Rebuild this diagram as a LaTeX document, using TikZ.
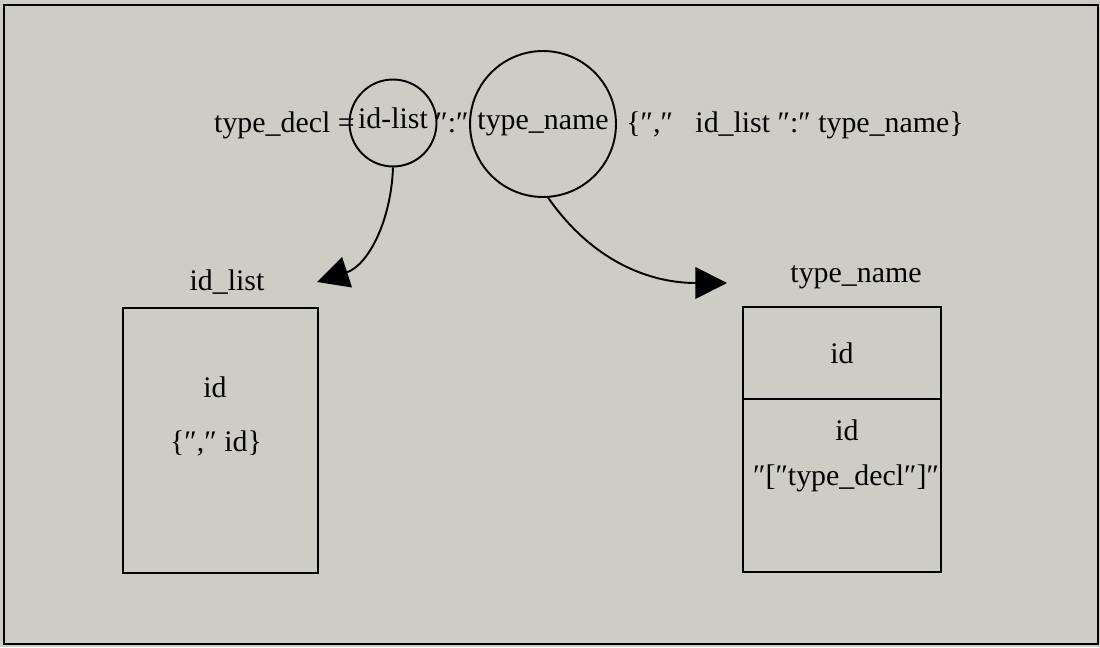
\documentclass[tikz,border=0pt]{standalone}
\usepackage{fontspec}
\setmainfont{Liberation Serif}
\usetikzlibrary{arrows.meta, positioning}
\definecolor{scangray}{HTML}{CDCDC6}

\begin{document}
\begin{tikzpicture}[
  x=0.02cm, y=0.02cm,
  every node/.style={font=\fontsize{17}{20}\selectfont, inner sep=0pt},
  ring/.style={circle, draw, line width=1.1pt, text height=1.5ex, text depth=.25ex},
  cell/.style={rectangle, draw, line width=1.1pt, outer sep=0pt, minimum width=3.96cm},
  link/.style={line width=1.1pt, -{Triangle[length=18pt, width=18pt]}},
]
% page
\useasboundingbox[fill=scangray] (0,0) rectangle (1100,647);
\draw[line width=1.4pt] (4,3) rectangle (1098,642);

% production rule
\node[anchor=base east] (lhs) at (355,515) {type\_decl =};
\node[ring, minimum size=1.74cm] (idl) at (393,524) {id-list};
\node[anchor=base] (col) at (452,515) {″:″};
\node[ring, minimum size=2.92cm] (tn) at (543,523) {type\_name};
\node[anchor=base west] (rest) at (626,515) {\{″,″\hspace{0.5em} id\_list ″:″ type\_name\}};

% id_list frame
\node (idlab) at (227,365) {id\_list};
\node[cell, minimum width=3.9cm, minimum height=5.3cm] (idbox) at (220.5,206.5) {};
\node (idrow1) at (215,260) {id};
\node (idrow2) at (216,204) {\{″,″ id\}};

% type_name frame
\node (tnlab) at (856,370) {type\_name};
\node[cell, minimum height=1.84cm] (tnhead) at (842,294) {id};
\node[cell, minimum height=3.46cm, below=0pt of tnhead] (tnbody) {};
\node (tnrow1) at (847,217) {id};
\node (tnrow2) at (846,169) {″[″type\_decl″]″};

% expansions
\coordinate (tipL) at (317,365);
\coordinate (tipR) at (727,364);
\draw[link] (idl.south) to[out=-92, in=18] (tipL);
\draw[link] (tn.-86) to[out=-55, in=180] (tipR);
\end{tikzpicture}
\end{document}
